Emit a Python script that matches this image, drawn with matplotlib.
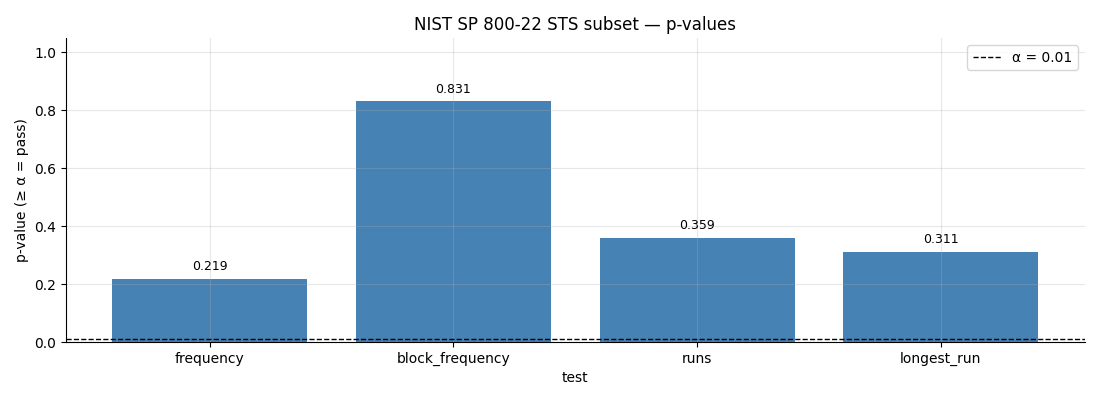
import matplotlib
matplotlib.use("Agg")
import matplotlib.pyplot as plt
import numpy as np

tests = ["frequency", "block_frequency", "runs", "longest_run"]
p_values = [0.219, 0.831, 0.359, 0.311]
alpha = 0.01

fig, ax = plt.subplots(figsize=(11, 4), dpi=100)
x = np.arange(len(tests))
ax.bar(x, p_values, width=0.8, color="steelblue")

for xi, v in zip(x, p_values):
    ax.text(xi, v + 0.02, f"{v:.3f}", ha="center", va="bottom", fontsize=9)

ax.axhline(alpha, color="black", linestyle="--", linewidth=1, label=f"α = {alpha}")

ax.set_xticks(x)
ax.set_xticklabels(tests)
ax.set_xlim(-0.59, len(tests) - 0.41)
ax.set_ylim(0, 1.05)
ax.set_xlabel("test")
ax.set_ylabel("p-value (≥ α = pass)")
ax.set_title("NIST SP 800-22 STS subset — p-values")
ax.grid(True, alpha=0.3)
ax.spines["top"].set_visible(False)
ax.spines["right"].set_visible(False)
ax.legend(loc="upper right")

fig.subplots_adjust(left=0.06, right=0.986, top=0.905, bottom=0.145)
fig.savefig("out.png", dpi=100)
